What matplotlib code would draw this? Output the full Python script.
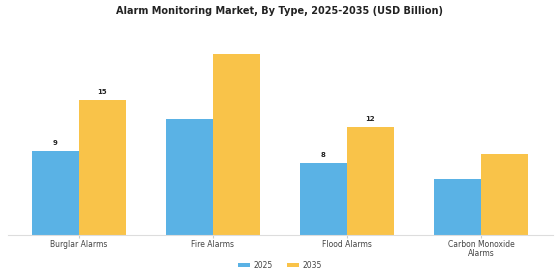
import numpy as np
import matplotlib
matplotlib.use('Agg')
import matplotlib.pyplot as plt

categories = ['Burglar Alarms', 'Fire Alarms', 'Flood Alarms', 'Carbon Monoxide\nAlarms']
values_2025 = [9.3, 12.9, 8.0, 6.2]
values_2035 = [15.0, 20.0, 12.0, 9.0]
labels_2025 = ['9', '', '8', '']
labels_2035 = ['15', '', '12', '']

blue = '#5AB2E5'
yellow = '#F9C349'

fig = plt.figure(figsize=(5.6, 2.8), dpi=100)
ax = fig.add_axes([0.014, 0.161, 0.974, 0.709])

x = np.arange(len(categories))
w = 0.35
b1 = ax.bar(x - w / 2, values_2025, w, color=blue, label='2025')
b2 = ax.bar(x + w / 2, values_2035, w, color=yellow, label='2035')

for bars, labs in ((b1, labels_2025), (b2, labels_2035)):
    for bar, lab in zip(bars, labs):
        if lab:
            ax.text(bar.get_x() + bar.get_width() / 2, bar.get_height() + 0.5, lab,
                    ha='center', va='bottom', fontsize=5, fontweight='bold', color='#222222')

ax.set_xlim(-0.53, 3.54)
ax.set_ylim(0, 22)
ax.set_xticks(x)
ax.set_xticklabels(categories, fontsize=5.5, color='#444444', linespacing=1.0)
ax.tick_params(axis='x', length=2, color='#cccccc', pad=2)
ax.set_yticks([])
for s in ['top', 'right', 'left']:
    ax.spines[s].set_visible(False)
ax.spines['bottom'].set_color('#dddddd')
ax.spines['bottom'].set_linewidth(0.8)

fig.suptitle('Alarm Monitoring Market, By Type, 2025-2035 (USD Billion)',
             fontsize=7, fontweight='bold', color='#222222', y=0.98)
fig.legend(loc='center', bbox_to_anchor=(0.5, 0.053), ncol=2, frameon=False,
           fontsize=5.5, handlelength=1.6, handleheight=0.6, handletextpad=0.5,
           columnspacing=1.8, labelcolor='#444444')

fig.savefig('out.png', dpi=100)
